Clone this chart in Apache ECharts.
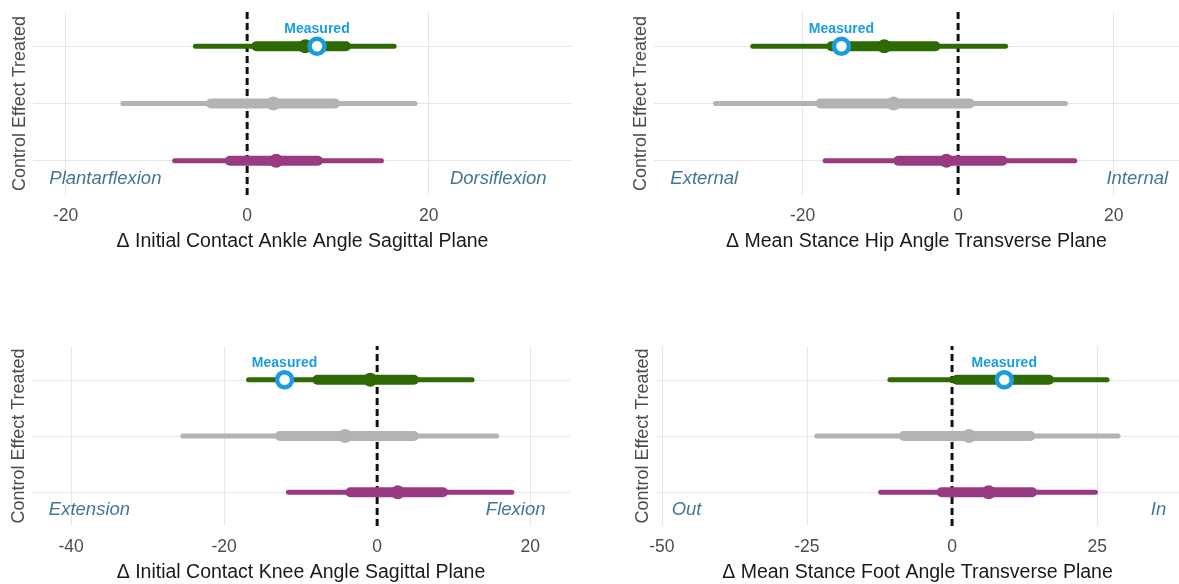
<!DOCTYPE html>
<html>
<head>
<meta charset="utf-8">
<script src="https://cdn.jsdelivr.net/npm/echarts@6/dist/echarts.min.js"></script>
<style>
html,body{margin:0;padding:0;background:#fff;}
#chart{width:1179px;height:584px;}
</style>
</head>
<body>
<div id="chart"></div>
<script>
// Rows (bottom to top)
const categories = ['Control', 'Effect', 'Treated'];
const rowColors = ['#983b82', '#b3b3b3', '#2d6b02'];

// Panel titles
const titles = [
  'Δ Initial Contact Ankle Angle Sagittal Plane',
  'Δ Mean Stance Hip Angle Transverse Plane',
  'Δ Initial Contact Knee Angle Sagittal Plane',
  'Δ Mean Stance Foot Angle Transverse Plane'
];

// Tick labels
const ankleTicks = [-20, 0, 20];
const hipTicks = [-20, 0, 20];
const kneeTicks = [-40, -20, 0, 20];
const footTicks = [-50, -25, 0, 25];

// Intervals: [Control, Effect, Treated]
const ankleOuter = [[-8.0, 14.8], [-13.7, 18.5], [-5.7, 16.2]];
const ankleInner = [[-1.9, 7.8], [-4.0, 9.7], [1.0, 10.9]];
const ankleMedian = [3.2, 2.9, 6.4];
const ankleMeasured = 7.7;

const hipOuter = [[-17.1, 15.0], [-31.2, 13.8], [-26.4, 6.1]];
const hipInner = [[-7.7, 5.7], [-17.7, 1.5], [-16.3, -2.9]];
const hipMedian = [-1.5, -8.3, -9.5];
const hipMeasured = -15.0;

const kneeOuter = [[-11.6, 17.6], [-25.4, 15.6], [-16.8, 12.4]];
const kneeInner = [[-3.5, 8.6], [-12.7, 4.8], [-7.8, 4.8]];
const kneeMedian = [2.7, -4.2, -0.9];
const kneeMeasured = -12.1;

const footOuter = [[-12.3, 24.7], [-23.3, 28.6], [-10.7, 26.7]];
const footInner = [[-1.8, 13.8], [-8.3, 13.5], [0.8, 16.7]];
const footMedian = [6.3, 2.9, 8.8];
const footMeasured = 9.0;

// Direction labels [left, right] with their x values
const ankleDir = ['Plantarflexion', 'Dorsiflexion'];
const ankleDirX = [-21.8, 33.0];
const hipDir = ['External', 'Internal'];
const hipDirX = [-37.0, 27.0];
const kneeDir = ['Extension', 'Flexion'];
const kneeDirX = [-42.9, 22.0];
const footDir = ['Out', 'In'];
const footDirX = [-48.3, 36.9];

// Axis ranges
const xRanges = [[-23.6, 35.8], [-39.1, 28.4], [-45.1, 25.2], [-51.0, 39.1]];

const panels = [
  {ticks: ankleTicks, outer: ankleOuter, inner: ankleInner, median: ankleMedian, measured: ankleMeasured, dir: ankleDir, dirX: ankleDirX},
  {ticks: hipTicks, outer: hipOuter, inner: hipInner, median: hipMedian, measured: hipMeasured, dir: hipDir, dirX: hipDirX},
  {ticks: kneeTicks, outer: kneeOuter, inner: kneeInner, median: kneeMedian, measured: kneeMeasured, dir: kneeDir, dirX: kneeDirX},
  {ticks: footTicks, outer: footOuter, inner: footInner, median: footMedian, measured: footMeasured, dir: footDir, dirX: footDirX}
];

const grids = [
  {left: 33, right: 607, top: 12, height: 183},
  {left: 654, right: 0, top: 12, height: 183},
  {left: 32, right: 609, top: 346, height: 187},
  {left: 656, right: 0, top: 346, height: 187}
];

const FONT = '"Liberation Sans", Arial, sans-serif';
const xAxes = [], yAxes = [], series = [];

panels.forEach((p, i) => {
  xAxes.push({
    type: 'value', gridIndex: i, min: xRanges[i][0], max: xRanges[i][1],
    name: titles[i], nameLocation: 'middle', nameGap: 37,
    nameTextStyle: {fontSize: 19.5, color: '#1a1a1a', fontFamily: FONT},
    axisLine: {show: false},
    axisTick: {show: false, customValues: p.ticks},
    axisLabel: {customValues: p.ticks, color: '#4d4d4d', fontSize: 17.5, margin: 12, fontFamily: FONT},
    splitLine: {show: true, lineStyle: {color: '#e6e6e6', width: 1}}
  });
  yAxes.push({
    type: 'value', gridIndex: i, min: 0.4, max: 3.6,
    name: categories.join(' '), nameLocation: 'middle', nameGap: 4, nameRotate: 90,
    nameTextStyle: {fontSize: 18, color: '#4d4d4d', fontFamily: FONT},
    axisLine: {show: false},
    axisTick: {show: false, customValues: [1, 2, 3]},
    axisLabel: {show: false, customValues: [1, 2, 3]},
    splitLine: {show: true, lineStyle: {color: '#e6e6e6', width: 1}}
  });

  // zero dashed reference line
  series.push({
    type: 'line', xAxisIndex: i, yAxisIndex: i, z: 1, silent: true,
    symbol: 'none', data: [[0, 0.4], [0, 3.6]],
    lineStyle: {color: '#111', width: 3, type: [7, 4]}
  });

  // intervals
  const data = categories.map((c, r) => [r + 1, p.outer[r][0], p.outer[r][1], p.inner[r][0], p.inner[r][1], p.median[r]]);
  series.push({
    type: 'custom', xAxisIndex: i, yAxisIndex: i, z: 2, silent: true,
    data: data,
    encode: {x: [1, 2, 3, 4, 5], y: 0},
    renderItem: function (params, api) {
      const row = api.value(0);
      const color = rowColors[row - 1];
      const a = api.coord([api.value(1), row]);
      const b = api.coord([api.value(2), row]);
      const c = api.coord([api.value(3), row]);
      const d = api.coord([api.value(4), row]);
      const m = api.coord([api.value(5), row]);
      return {
        type: 'group',
        children: [
          {type: 'line', shape: {x1: a[0], y1: a[1], x2: b[0], y2: b[1]}, style: {stroke: color, lineWidth: 5, lineCap: 'round'}},
          {type: 'line', shape: {x1: c[0], y1: c[1], x2: d[0], y2: d[1]}, style: {stroke: color, lineWidth: 10, lineCap: 'round'}},
          {type: 'circle', shape: {cx: m[0], cy: m[1], r: 7}, style: {fill: color}}
        ]
      };
    }
  });

  // measured value
  series.push({
    type: 'scatter', xAxisIndex: i, yAxisIndex: i, z: 3, silent: true,
    data: [[p.measured, 3]],
    symbol: 'circle', symbolSize: 15,
    itemStyle: {color: '#ffffff', borderColor: '#1a9de0', borderWidth: 4.5, opacity: 1},
    label: {show: true, formatter: 'Measured', position: 'top', distance: 0,
      color: '#1a9de0', fontWeight: 'bold', fontSize: 14, fontFamily: FONT}
  });

  // direction labels
  series.push({
    type: 'scatter', xAxisIndex: i, yAxisIndex: i, z: 3, silent: true,
    symbolSize: 0,
    data: [
      {value: [p.dirX[0], 0.69], label: {align: 'left', formatter: p.dir[0]}},
      {value: [p.dirX[1], 0.69], label: {align: 'right', formatter: p.dir[1]}}
    ],
    label: {show: true, position: 'inside', color: '#0f5479', fontStyle: 'italic', fontSize: 18.5, fontFamily: FONT}
  });
});

const chart = echarts.init(document.getElementById('chart'), null, {renderer: 'canvas'});
chart.setOption({
  animation: false,
  backgroundColor: '#ffffff',
  grid: grids,
  xAxis: xAxes,
  yAxis: yAxes,
  series: series
});
</script>
</body>
</html>
